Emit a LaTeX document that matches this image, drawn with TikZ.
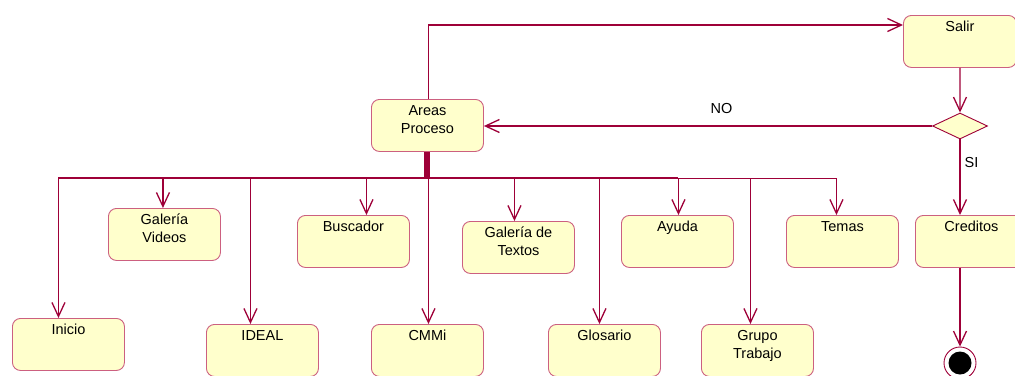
\documentclass[tikz,border=0pt]{standalone}
\usepackage{fontspec}
\setmainfont{Liberation Sans}
\usetikzlibrary{arrows.meta,shapes.geometric,calc}

\definecolor{wire}{RGB}{158,0,56}
\definecolor{rim}{RGB}{204,96,128}
\definecolor{paper}{RGB}{255,255,204}

% caption of a state: first baseline 16pt below the top edge
\newcommand\statetext[2]{%
  \node[caption] (#1-t) at ($(#1.north)+(0,16)$)
    {\begin{tabular}[t]{@{}c@{}}#2\end{tabular}};}

\begin{document}
\begin{tikzpicture}[x=1pt,y=-1pt,
  state/.style={draw=rim, fill=paper, rounded corners=8pt, line width=0.9pt,
    minimum width=112pt, minimum height=52pt, inner sep=0pt, anchor=north west},
  caption/.style={anchor=base, inner sep=0pt, font=\fontsize{14.5}{18.5}\selectfont},
  flow/.style={draw=wire, line width=1.3pt, -{Straight Barb[length=14pt,width=13pt]}},
  trunk/.style={draw=wire, line width=2.3pt},
  ]
\useasboundingbox (0,0) rectangle (1015,375);

% states
\node[state] (areas)    at (371,99)  {};
\node[state, minimum width=113pt] (salir) at (903,15) {};
\node[state] (inicio)   at (12,318)  {};
\node[state] (gvideos)  at (108,208) {};
\node[state] (ideal)    at (206,324) {};
\node[state] (buscador) at (297,215) {};
\node[state] (cmmi)     at (371,324) {};
\node[state] (gtextos)  at (462,221) {};
\node[state] (glosario) at (548,324) {};
\node[state] (ayuda)    at (621,215) {};
\node[state] (grupo)    at (701,324) {};
\node[state] (temas)    at (786,215) {};
\node[state] (creditos) at (915,215) {};

\statetext{areas}{Areas\\Proceso}
\statetext{salir}{Salir}
\statetext{inicio}{Inicio}
\statetext{gvideos}{Galería\\Videos}
\statetext{ideal}{IDEAL}
\statetext{buscador}{Buscador}
\statetext{cmmi}{CMMi}
\statetext{gtextos}{Galería de\\Textos}
\statetext{glosario}{Glosario}
\statetext{ayuda}{Ayuda}
\statetext{grupo}{Grupo\\Trabajo}
\statetext{temas}{Temas}
\statetext{creditos}{Creditos}

% decision and final state
\node[diamond, draw=wire, fill=paper, line width=0.9pt, inner sep=0pt,
      minimum width=55pt, minimum height=26pt] (dec) at (960,126) {};
\node[circle, draw=wire, fill=white, line width=0.9pt, inner sep=0pt,
      minimum size=32pt] (end) at (960,363) {};
\node[circle, fill=black, inner sep=0pt, minimum size=23pt] (end-dot) at (end) {};

% fork bar below Areas Proceso
\node[fill=wire, inner sep=0pt, minimum width=6pt, minimum height=26pt,
      anchor=north] (fork) at ($(areas.south)+(0,0)$) {};

% drop points of the branches
\coordinate (inicio-in)   at ($(inicio.north)+(-10,0)$);
\coordinate (gvideos-in)  at ($(gvideos.north)+(-1.5,0)$);
\coordinate (ideal-in)    at ($(ideal.north)+(-12,0)$);
\coordinate (buscador-in) at ($(buscador.north)+(13,0)$);
\coordinate (cmmi-in)     at ($(cmmi.north)+(1,0)$);
\coordinate (gtextos-in)  at ($(gtextos.north)+(-4,0)$);
\coordinate (glosario-in) at ($(glosario.north)+(-5,0)$);
\coordinate (ayuda-in)    at ($(ayuda.north)+(1,0)$);
\coordinate (grupo-in)    at ($(grupo.north)+(-7,0)$);
\coordinate (temas-in)    at ($(temas.north)+(-6,0)$);

\draw[trunk] (fork.south -| inicio-in) -- (fork.south -| ayuda-in);
\foreach \t in {inicio,gvideos,ideal,buscador,cmmi,gtextos,glosario,ayuda,grupo,temas}
  \draw[flow] (fork.south) -| (\t-in);

% loop back and exit
\draw[flow] ($(areas.north)+(1,0)$) |- ($(salir.north west)+(0,10)$);
\draw[flow] (salir.south) -- (dec.north);
\draw[flow] (dec.west) -- (dec.west -| areas.east)
  node[caption, pos=0.47, above=12pt] (no) {NO};
\draw[flow] (dec.south) -- (dec.south |- creditos.north)
  node[caption, anchor=base west, pos=0.37, xshift=4pt] (si) {SI};
\draw[flow] (creditos.south -| dec) -- (end.north);
\end{tikzpicture}
\end{document}
